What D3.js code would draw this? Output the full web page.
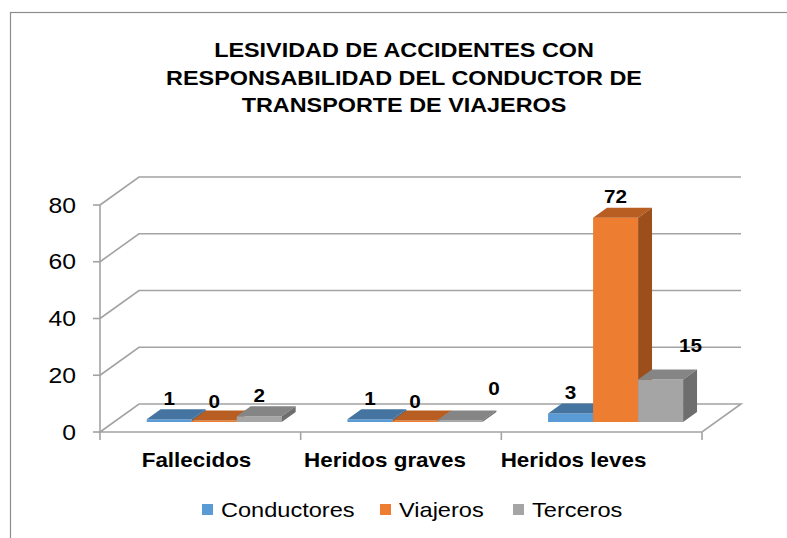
<!DOCTYPE html>
<html>
<head>
<meta charset="utf-8">
<script src="https://cdn.jsdelivr.net/npm/d3@7/dist/d3.min.js"></script>
<style>
  html, body { margin: 0; padding: 0; background: #fff; }
  svg { display: block; font-family: "Liberation Sans", Arial, sans-serif; }
</style>
</head>
<body>
<svg id="chart" width="787" height="538"></svg>
<script>
// Data
const categories = ["Fallecidos", "Heridos graves", "Heridos leves"];
const seriesNames = ["Conductores", "Viajeros", "Terceros"];
const conductores = [1, 1, 3];
const viajeros = [0, 0, 72];
const terceros = [2, 0, 15];
const yTicks = [0, 20, 40, 60, 80];
const titleLines = [
  "LESIVIDAD DE ACCIDENTES CON",
  "RESPONSABILIDAD DEL CONDUCTOR DE",
  "TRANSPORTE DE VIAJEROS"
];

const seriesValues = [conductores, viajeros, terceros];
const colors = {
  front: ["#5B9BD5", "#ED7D31", "#A5A5A5"],
  top:   ["#44749F", "#B85E22", "#858585"],
  side:  ["#3C6790", "#9C4F1B", "#6E6E6E"]
};

const svg = d3.select("#chart");
const SX = 1.15; // horizontal text stretch

// outer frame
svg.append("rect")
  .attr("x", 10.5).attr("y", 12.5)
  .attr("width", 900).attr("height", 700)
  .attr("fill", "none").attr("stroke", "#8c8c8c").attr("stroke-width", 1.2);

// title
const title = svg.append("g");
titleLines.forEach((t, i) => {
  title.append("text")
    .attr("transform", `translate(404,${57 + i * 27.5}) scale(1.2,1)`)
    .attr("text-anchor", "middle")
    .attr("font-size", 19.5)
    .attr("font-weight", "bold")
    .attr("fill", "#000")
    .text(t);
});

// 3D plot geometry
const DX = 39, DY = -28;           // depth offset of the back wall
const x = d3.scaleBand().domain(categories).range([100, 702]).paddingInner(0.327).paddingOuter(0.1635);
const xs = d3.scaleBand().domain(seriesNames).range([0, x.bandwidth()]);
const y = d3.scaleLinear().domain([0, 80]).range([432, 205]);
const d0 = 0.357, d1 = 0.714;      // bar depth span inside the floor
const gridColor = "#a3a3a3";

const plot = svg.append("g");

// back wall gridlines (with diagonal on the left side wall)
yTicks.forEach(v => {
  const yy = y(v);
  if (v === 0) {
    plot.append("path")
      .attr("d", `M100,${yy}L${100 + DX},${yy + DY}L${702 + DX},${yy + DY}L702,${yy}Z`)
      .attr("fill", "#fff").attr("stroke", gridColor).attr("stroke-width", 1.6);
  } else {
    plot.append("path")
      .attr("d", `M100,${yy}L${100 + DX},${yy + DY}L${702 + DX},${yy + DY}`)
      .attr("fill", "none").attr("stroke", gridColor).attr("stroke-width", 1.6);
  }
});

// vertical axis with ticks
plot.append("line")
  .attr("x1", 100).attr("x2", 100).attr("y1", y(0)).attr("y2", y(80))
  .attr("stroke", gridColor).attr("stroke-width", 1.6);
yTicks.forEach(v => {
  plot.append("line")
    .attr("x1", 93).attr("x2", 100).attr("y1", y(v)).attr("y2", y(v))
    .attr("stroke", gridColor).attr("stroke-width", 1.6);
  plot.append("text")
    .attr("transform", `translate(76,${y(v) + 7.5}) scale(${SX},1)`)
    .attr("text-anchor", "end")
    .attr("font-size", 21.5)
    .attr("fill", "#000")
    .text(v);
});

// category axis ticks along the front edge of the floor
const catEdges = [100].concat(categories.map(c => x(c) - x.step() * x.paddingInner() / 2 + x.step()));
catEdges.forEach(cx => {
  plot.append("line")
    .attr("x1", cx).attr("x2", cx).attr("y1", y(0)).attr("y2", y(0) + 8)
    .attr("stroke", gridColor).attr("stroke-width", 1.6);
});

// bars: front, top and right side faces
const bars = [];
categories.forEach((c, ci) => {
  seriesNames.forEach((s, si) => {
    bars.push({ c, s, ci, si, v: seriesValues[si][ci] });
  });
});

const bw = xs.bandwidth();
const barG = plot.append("g");
bars.forEach(b => {
  const xl = x(b.c) + xs(b.s) + d0 * DX;
  const xr = xl + bw;
  const yb = y(0) + d0 * DY;
  const yt = Math.min(y(b.v) + d0 * DY, yb - 1.5);
  const ex = (d1 - d0) * DX, ey = (d1 - d0) * DY;
  const g = barG.append("g");
  g.append("path")
    .attr("d", `M${xl},${yb}L${xr},${yb}L${xr},${yt}L${xl},${yt}Z`)
    .attr("fill", colors.front[b.si]);
  g.append("path")
    .attr("d", `M${xl},${yt}L${xr},${yt}L${xr + ex},${yt + ey}L${xl + ex},${yt + ey}Z`)
    .attr("fill", colors.top[b.si]);
  g.append("path")
    .attr("d", `M${xr},${yb}L${xr + ex},${yb + ey}L${xr + ex},${yt + ey}L${xr},${yt}Z`)
    .attr("fill", colors.side[b.si]);
});

// value labels
const labelNudge = { "Heridos graves|Terceros": [34, -13], "Heridos leves|Terceros": [30, -13] };
bars.forEach(b => {
  const cx = x(b.c) + xs(b.s) + d0 * DX + bw / 2;
  const top = y(b.v) + d0 * DY;
  const n = labelNudge[b.c + "|" + b.s] || [0, 0];
  plot.append("text")
    .attr("transform", `translate(${cx + n[0]},${top - 21 + 6.5 + n[1]}) scale(${SX},1)`)
    .attr("text-anchor", "middle")
    .attr("font-size", 18)
    .attr("font-weight", "bold")
    .attr("fill", "#000")
    .text(b.v);
});

// category labels
const xLabel = d3.scalePoint().domain(categories).range([196.5, 573.5]);
categories.forEach(c => {
  svg.append("text")
    .attr("transform", `translate(${xLabel(c)},467) scale(${SX},1)`)
    .attr("text-anchor", "middle")
    .attr("font-size", 19.5)
    .attr("font-weight", "bold")
    .attr("fill", "#000")
    .text(c);
});

// legend
const legendX = [202, 380, 513];
const legend = svg.append("g");
seriesNames.forEach((s, i) => {
  legend.append("rect")
    .attr("x", legendX[i]).attr("y", 504).attr("width", 11).attr("height", 11)
    .attr("fill", colors.front[i]);
  legend.append("text")
    .attr("transform", `translate(${legendX[i] + 19},516.5) scale(${SX},1)`)
    .attr("font-size", 20.5)
    .attr("fill", "#000")
    .text(s);
});
</script>
</body>
</html>
